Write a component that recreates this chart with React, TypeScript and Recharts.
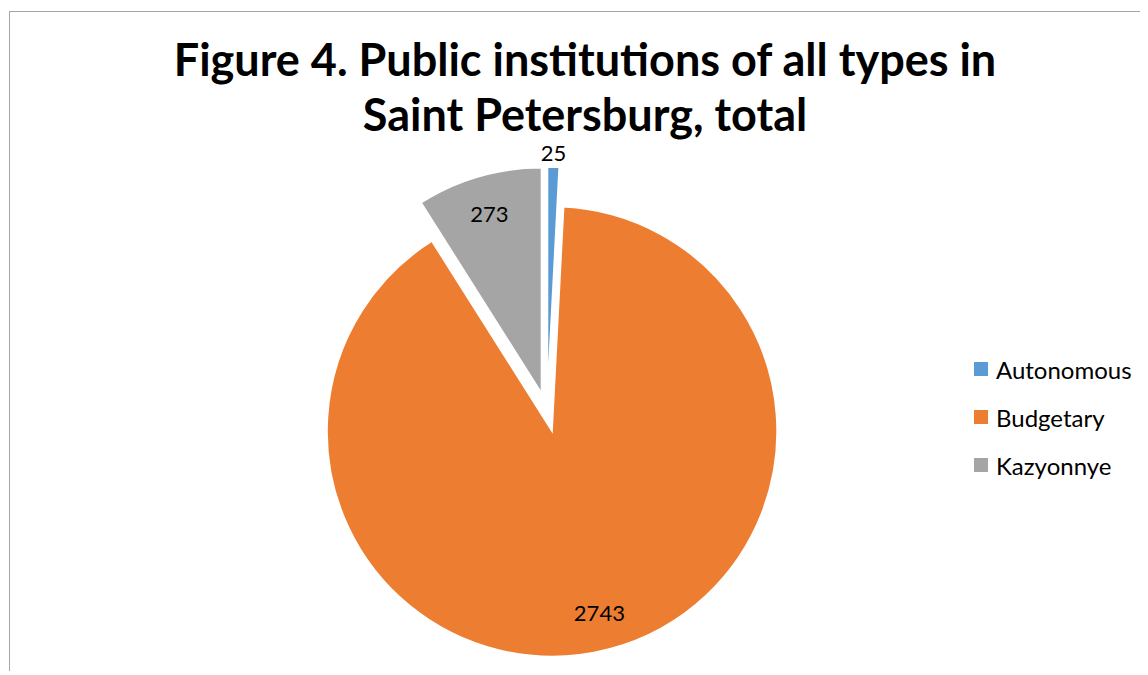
import { PieChart, Pie, Cell } from 'recharts'

const categories = ['Autonomous', 'Budgetary', 'Kazyonnye']
const counts = [25, 2743, 273]
const colors = ['#5b9bd5', '#ed7d31', '#a5a5a5']
const explode = [20, 20, 20]

const titleLines = ['Figure 4. Public institutions of all types in', 'Saint Petersburg, total']

const data = categories.map((name, i) => ({ name, value: counts[i] }))

const W = 1138
const H = 662
const CX = 537
const CY = 400
const R = 225
const RAD = Math.PI / 180
const font = 'Lato, "Open Sans", sans-serif'

// mid angle of each slice, degrees clockwise from 12 o'clock
const total = counts.reduce((a, b) => a + b, 0)
const mids = counts.map((v, i) => {
  const before = counts.slice(0, i).reduce((a, b) => a + b, 0)
  return ((before + v / 2) / total) * 360
})

const makeLabel = (target: number) => (p: any) => {
  if (p.index !== target) return null
  const small = p.percent < 0.05
  const r = small ? p.outerRadius + 6 : p.outerRadius * 0.83
  const x = p.cx + r * Math.cos(-p.midAngle * RAD)
  const y = p.cy + r * Math.sin(-p.midAngle * RAD)
  return (
    <text
      x={x}
      y={y}
      textAnchor="middle"
      dominantBaseline={small ? 'auto' : 'central'}
      fill="#000"
      fontSize={22}
      fontFamily={font}
    >
      {p.value}
    </text>
  )
}

export default function App() {
  return (
    <div
      style={{
        position: 'relative',
        top: 3,
        left: 1,
        width: W,
        height: H,
        borderTop: '1px solid #a6a6a6',
        borderLeft: '1px solid #a6a6a6',
        background: '#fff',
      }}
    >
      <div
        style={{
          position: 'absolute',
          left: 0,
          top: 20,
          width: 1150,
          textAlign: 'center',
          fontFamily: font,
          fontWeight: 700,
          fontSize: 45,
          lineHeight: '55px',
          color: '#000',
        }}
      >
        {titleLines.map(t => (
          <div key={t}>{t}</div>
        ))}
      </div>
      <PieChart
        width={W}
        height={H}
        margin={{ top: 0, right: 0, bottom: 0, left: 0 }}
        style={{ position: 'absolute', left: 0, top: 0 }}
      >
        {categories.map((_, j) => (
          <Pie
            key={j}
            data={data}
            dataKey="value"
            nameKey="name"
            cx={CX + explode[j] * Math.sin(mids[j] * RAD)}
            cy={CY - explode[j] * Math.cos(mids[j] * RAD)}
            outerRadius={R}
            startAngle={90}
            endAngle={-270}
            label={makeLabel(j)}
            labelLine={false}
            legendType="none"
            isAnimationActive={false}
          >
            {data.map((d, i) => (
              <Cell
                key={d.name}
                fill={i === j ? colors[i] : 'none'}
                stroke={i === j ? '#fff' : 'none'}
                strokeWidth={1.5}
              />
            ))}
          </Pie>
        ))}
      </PieChart>
      <div style={{ position: 'absolute', left: 964, top: 333, fontFamily: font, fontSize: 24, color: '#000' }}>
        {categories.map((c, i) => (
          <div key={c} style={{ display: 'flex', alignItems: 'center', height: 48 }}>
            <span style={{ width: 14, height: 14, background: colors[i], marginRight: 8, display: 'inline-block' }} />
            {c}
          </div>
        ))}
      </div>
    </div>
  )
}
